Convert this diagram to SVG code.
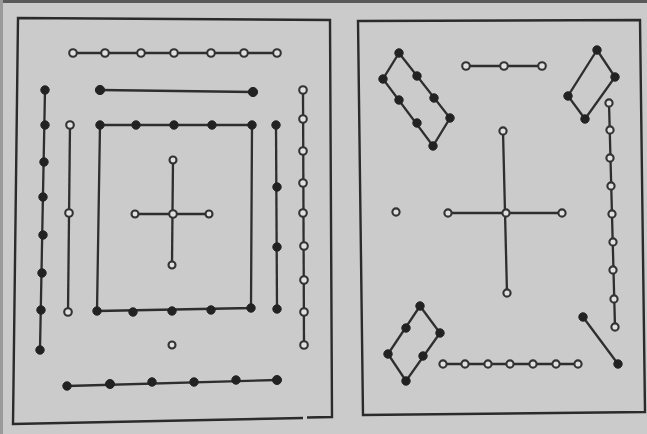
<svg xmlns="http://www.w3.org/2000/svg" width="647" height="434" viewBox="0 0 647 434">
<defs>
<style>
.frame{fill:none;stroke:#2b2b2b;stroke-width:2.4;stroke-linejoin:miter}
.ln{fill:none;stroke:#2e2e2e;stroke-width:2.3}
.f{fill:#222;stroke:#222;stroke-width:1}
.o{fill:#e0e0e0;stroke:#333;stroke-width:2.1}
</style>
</defs>
<rect x="0" y="0" width="647" height="434" fill="#cbcbcb"/>
<rect x="0" y="0" width="647" height="3" fill="#5a5a5a"/>
<rect x="0" y="0" width="3" height="434" fill="#9a9a9a"/>
<g id="frames">
<path class="frame" d="M307,417.5 L332,417 L330,20 L18,18 L13,424 L303,418"/>
<path class="frame" d="M358,21 L640,20 L645,412 L363,415 Z"/>
</g>
<g id="connectors" class="ln">
<line x1="73" y1="53" x2="277" y2="53"/>
<line x1="100" y1="90" x2="253" y2="92"/>
<line x1="45" y1="90" x2="40" y2="350"/>
<line x1="70" y1="125" x2="68" y2="312"/>
<polyline points="97,311 100,125 252,125 251,308 97,311"/>
<line x1="173" y1="160" x2="172" y2="265"/>
<line x1="135" y1="214" x2="209" y2="214"/>
<line x1="276" y1="125" x2="277" y2="309"/>
<line x1="303" y1="90" x2="304" y2="345"/>
<line x1="67" y1="386" x2="277" y2="380"/>
<polygon points="399,53 450,118 433,146 383,79" fill="none"/>
<line x1="466" y1="66" x2="542" y2="66"/>
<polygon points="597,50 615,77 585,119 568,96" fill="none"/>
<line x1="609" y1="103" x2="615" y2="327"/>
<line x1="503" y1="131" x2="507" y2="293"/>
<line x1="448" y1="213" x2="562" y2="213"/>
<polygon points="420,306 440,333 406,381 388,354" fill="none"/>
<line x1="443" y1="364" x2="578" y2="364"/>
<line x1="583" y1="317" x2="618" y2="364"/>
</g>
<g id="left-top-open">
<circle class="o" cx="73" cy="53" r="3.8"/><circle class="o" cx="105" cy="53" r="3.8"/><circle class="o" cx="141" cy="53" r="3.8"/><circle class="o" cx="174" cy="53" r="3.8"/><circle class="o" cx="211" cy="53" r="3.8"/><circle class="o" cx="244" cy="53" r="3.8"/><circle class="o" cx="277" cy="53" r="3.8"/>
</g>
<g id="left-filled-bar">
<circle class="f" cx="100" cy="90" r="4.6"/><circle class="f" cx="253" cy="92" r="4.6"/>
</g>
<g id="left-filled-column">
<circle class="f" cx="45" cy="90" r="4.2"/><circle class="f" cx="45" cy="125" r="4.2"/><circle class="f" cx="44" cy="162" r="4.2"/><circle class="f" cx="43" cy="197" r="4.2"/><circle class="f" cx="43" cy="235" r="4.2"/><circle class="f" cx="42" cy="273" r="4.2"/><circle class="f" cx="41" cy="310" r="4.2"/><circle class="f" cx="40" cy="350" r="4.2"/>
</g>
<g id="left-open-column">
<circle class="o" cx="70" cy="125" r="3.8"/><circle class="o" cx="69" cy="213" r="3.8"/><circle class="o" cx="68" cy="312" r="3.8"/>
</g>
<g id="inner-square">
<circle class="f" cx="100" cy="125" r="4.2"/><circle class="f" cx="136" cy="125" r="4.2"/><circle class="f" cx="174" cy="125" r="4.2"/><circle class="f" cx="212" cy="125" r="4.2"/><circle class="f" cx="252" cy="125" r="4.2"/>
<circle class="f" cx="97" cy="311" r="4.2"/><circle class="f" cx="133" cy="312" r="4.2"/><circle class="f" cx="172" cy="311" r="4.2"/><circle class="f" cx="211" cy="310" r="4.2"/><circle class="f" cx="251" cy="308" r="4.2"/>
</g>
<g id="left-cross">
<circle class="o" cx="173" cy="160" r="3.5"/><circle class="o" cx="135" cy="214" r="3.5"/><circle class="o" cx="173" cy="214" r="3.8"/><circle class="o" cx="209" cy="214" r="3.5"/><circle class="o" cx="172" cy="265" r="3.5"/>
</g>
<g id="left-single">
<circle class="o" cx="172" cy="345" r="3.5"/>
</g>
<g id="left-right-filled-column">
<circle class="f" cx="276" cy="125" r="4.2"/><circle class="f" cx="277" cy="187" r="4.2"/><circle class="f" cx="277" cy="247" r="4.2"/><circle class="f" cx="277" cy="309" r="4.2"/>
</g>
<g id="left-right-open-column">
<circle class="o" cx="303" cy="90" r="3.8"/><circle class="o" cx="303" cy="119" r="3.8"/><circle class="o" cx="303" cy="151" r="3.8"/><circle class="o" cx="303" cy="183" r="3.8"/><circle class="o" cx="303" cy="213" r="3.8"/><circle class="o" cx="304" cy="246" r="3.8"/><circle class="o" cx="304" cy="280" r="3.8"/><circle class="o" cx="304" cy="312" r="3.8"/><circle class="o" cx="304" cy="345" r="3.8"/>
</g>
<g id="left-bottom-filled">
<circle class="f" cx="67" cy="386" r="4.2"/><circle class="f" cx="110" cy="384" r="4.5"/><circle class="f" cx="152" cy="382" r="4.2"/><circle class="f" cx="194" cy="382" r="4.2"/><circle class="f" cx="236" cy="380" r="4.2"/><circle class="f" cx="277" cy="380" r="4.5"/>
</g>
<g id="right-rectangle">
<circle class="f" cx="399" cy="53" r="4.2"/><circle class="f" cx="417" cy="76" r="4.2"/><circle class="f" cx="434" cy="98" r="4.2"/><circle class="f" cx="450" cy="118" r="4.2"/><circle class="f" cx="433" cy="146" r="4.2"/><circle class="f" cx="417" cy="123" r="4.2"/><circle class="f" cx="399" cy="100" r="4.2"/><circle class="f" cx="383" cy="79" r="4.2"/>
</g>
<g id="right-top-open">
<circle class="o" cx="466" cy="66" r="3.8"/><circle class="o" cx="504" cy="66" r="3.8"/><circle class="o" cx="542" cy="66" r="3.8"/>
</g>
<g id="right-diamond">
<circle class="f" cx="597" cy="50" r="4.2"/><circle class="f" cx="615" cy="77" r="4.2"/><circle class="f" cx="585" cy="119" r="4.2"/><circle class="f" cx="568" cy="96" r="4.2"/>
</g>
<g id="right-open-column">
<circle class="o" cx="609" cy="103" r="3.6"/><circle class="o" cx="610" cy="130" r="3.6"/><circle class="o" cx="610" cy="158" r="3.6"/><circle class="o" cx="611" cy="186" r="3.6"/><circle class="o" cx="612" cy="214" r="3.6"/><circle class="o" cx="613" cy="242" r="3.6"/><circle class="o" cx="613" cy="270" r="3.6"/><circle class="o" cx="614" cy="299" r="3.6"/><circle class="o" cx="615" cy="327" r="3.6"/>
</g>
<g id="right-cross">
<circle class="o" cx="503" cy="131" r="3.6"/><circle class="o" cx="448" cy="213" r="3.6"/><circle class="o" cx="506" cy="213" r="3.6"/><circle class="o" cx="562" cy="213" r="3.6"/><circle class="o" cx="507" cy="293" r="3.6"/>
</g>
<g id="right-single">
<circle class="o" cx="396" cy="212" r="3.6"/>
</g>
<g id="right-parallelogram">
<circle class="f" cx="420" cy="306" r="4.2"/><circle class="f" cx="440" cy="333" r="4.2"/><circle class="f" cx="423" cy="356" r="4.2"/><circle class="f" cx="406" cy="381" r="4.2"/><circle class="f" cx="388" cy="354" r="4.2"/><circle class="f" cx="406" cy="328" r="4.2"/>
</g>
<g id="right-bottom-open">
<circle class="o" cx="443" cy="364" r="3.6"/><circle class="o" cx="465" cy="364" r="3.6"/><circle class="o" cx="488" cy="364" r="3.6"/><circle class="o" cx="510" cy="364" r="3.6"/><circle class="o" cx="533" cy="364" r="3.6"/><circle class="o" cx="556" cy="364" r="3.6"/><circle class="o" cx="578" cy="364" r="3.6"/>
</g>
<g id="right-diagonal">
<circle class="f" cx="583" cy="317" r="4.2"/><circle class="f" cx="618" cy="364" r="4.2"/>
</g>
</svg>
